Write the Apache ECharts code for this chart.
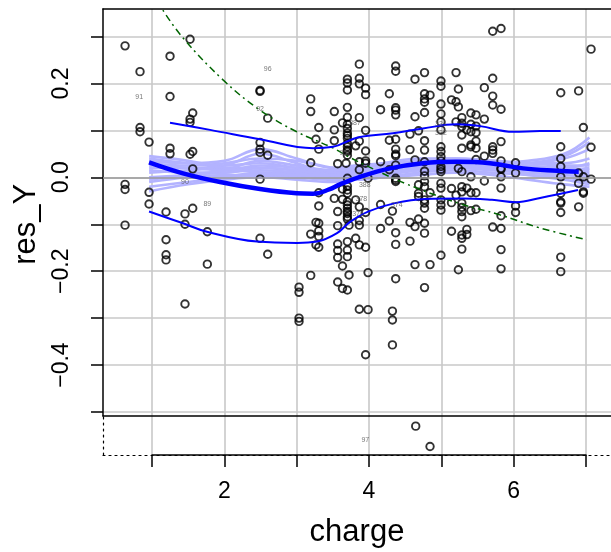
<!DOCTYPE html>
<html><head><meta charset="utf-8">
<script src="https://cdn.jsdelivr.net/npm/echarts@6/dist/echarts.min.js"></script>
<style>html,body{margin:0;padding:0;background:#fff}#c{width:611px;height:552px}</style>
</head><body><div id="c"></div>
<script>
// ---- data (charge, res_Y) ----
const points = [
[0.627,0.280],[0.627,-0.015],[0.627,-0.026],[0.627,-0.102],
[0.834,0.225],[0.834,0.106],[0.834,0.097],
[0.959,0.075],[0.959,-0.032],[0.959,-0.057],
[1.194,-0.074],[1.194,-0.133],[1.194,-0.165],[1.194,-0.176],
[1.249,0.258],[1.249,0.172],[1.249,0.062],[1.249,0.050],
[1.456,-0.078],[1.456,-0.100],[1.456,-0.270],
[1.526,0.294],[1.526,0.124],[1.526,0.117],[1.526,0.049],
[1.563,0.137],[1.563,0.055],[1.563,0.018],[1.563,-0.066],
[1.765,-0.116],[1.765,-0.185],
[2.494,0.185],[2.494,0.183],[2.494,0.074],[2.494,0.060],[2.494,0.053],[2.494,-0.004],[2.494,-0.130],
[2.6,0.126],[2.6,0.047],[2.6,-0.164],
[3.033,-0.234],[3.033,-0.245],[3.033,-0.300],[3.033,-0.307],
[3.195,0.167],[3.195,0.140],[3.195,0.031],[3.195,-0.121],[3.195,-0.209],
[3.306,0.106],[3.268,0.081],[3.306,0.060],[3.306,-0.033],[3.306,-0.061],[3.268,-0.096],[3.306,-0.098],[3.306,-0.114],[3.306,-0.126],[3.268,-0.144],[3.306,-0.149],
[3.521,0.140],[3.521,0.101],[3.521,0.078],[3.521,-0.045],
[3.568,0.029],[3.568,-0.073],[3.568,-0.103],[3.568,-0.142],[3.568,-0.156],[3.568,-0.171],[3.568,-0.223],
[3.634,0.116],[3.634,-0.025],[3.634,-0.047],[3.634,-0.189],[3.634,-0.237],
[3.702,0.209],[3.702,0.201],[3.702,0.186],[3.702,0.149],[3.702,0.128],[3.702,0.113],[3.702,0.104],[3.702,0.094],[3.702,0.089],[3.702,0.083],[3.702,0.072],[3.702,0.065],[3.702,0.058],[3.702,0.055],[3.702,0.047],[3.684,0.030],[3.702,-0.002],[3.702,-0.019],[3.702,-0.027],[3.702,-0.034],[3.702,-0.052],[3.702,-0.059],[3.702,-0.066],[3.702,-0.073],[3.702,-0.077],[3.702,-0.084],[3.702,-0.089],[3.725,-0.102],[3.702,-0.137],[3.702,-0.155],[3.702,-0.169],[3.725,-0.208],[3.702,-0.240],
[3.817,0.067],[3.817,-0.048],[3.817,-0.130],
[3.867,0.241],[3.867,0.211],[3.867,0.199],[3.867,0.127],[3.867,0.077],[3.867,0.033],[3.867,0.016],[3.867,-0.063],[3.867,-0.092],[3.867,-0.102],[3.867,-0.144],[3.867,-0.281],
[3.954,0.190],[3.954,0.176],[3.954,0.100],[3.954,0.056],[3.954,0.035],[3.954,0.030],[3.954,-0.075],[3.954,-0.149],[3.954,-0.378],[3.988,-0.002],[3.988,-0.203],[3.988,-0.282],
[4.161,0.144],[4.161,0.033],[4.161,-0.058],[4.161,-0.109],
[4.282,0.178],[4.282,0.079],[4.282,0.016],[4.282,-0.093],
[4.325,-0.072],[4.325,-0.285],[4.325,-0.304],[4.325,-0.357],
[4.37,0.237],[4.37,0.226],[4.37,0.148],[4.37,0.143],[4.37,0.133],[4.37,0.081],[4.37,0.060],[4.37,0.049],[4.37,0.046],[4.37,0.026],[4.37,-0.002],[4.37,-0.006],[4.37,-0.009],[4.37,-0.118],[4.37,-0.143],[4.37,-0.216],
[4.568,0.092],[4.568,0.059],[4.568,-0.096],[4.568,-0.136],
[4.637,0.209],[4.637,0.129],[4.637,0.037],[4.637,-0.105],[4.637,-0.186],
[4.686,0.099],[4.686,-0.016],[4.686,-0.034],[4.686,-0.041],[4.686,-0.089],
[4.769,0.223],[4.769,0.178],[4.769,0.167],[4.769,0.160],[4.769,0.138],[4.769,0.078],[4.769,0.058],[4.769,0.033],[4.769,0.013],[4.769,0.003],[4.769,-0.009],[4.769,-0.020],[4.769,-0.048],[4.769,-0.055],[4.769,-0.066],[4.769,-0.098],[4.769,-0.119],[4.769,-0.235],
[4.845,0.175],[4.845,-0.033],[4.845,-0.186],
[4.996,0.205],[4.996,0.194],[4.996,0.156],[4.996,0.135],[4.996,0.118],[4.996,0.101],[4.996,0.065],[4.996,0.055],[4.996,0.044],[4.996,0.035],[4.996,0.023],[4.996,0.017],[4.996,0.012],[4.996,-0.013],[4.996,-0.023],[4.996,-0.048],[4.996,-0.059],[4.996,-0.070],[4.996,-0.166],
[5.142,0.165],[5.142,-0.024],[5.142,-0.054],[5.142,-0.115],
[5.205,0.223],[5.205,0.161],[5.205,0.118],[5.205,-0.038],
[5.237,0.188],[5.237,0.150],[5.237,0.019],[5.237,-0.197],
[5.285,0.127],[5.285,0.115],[5.285,0.108],[5.285,0.090],[5.285,0.062],[5.285,0.012],[5.285,-0.020],[5.285,-0.031],[5.285,-0.055],[5.285,-0.064],[5.285,-0.073],[5.285,-0.084],[5.285,-0.123],[5.285,-0.130],[5.285,-0.153],
[5.354,0.101],[5.354,-0.023],[5.354,-0.111],[5.354,-0.122],
[5.41,0.137],[5.41,0.113],[5.41,0.097],[5.41,0.069],[5.41,0.065],[5.41,0.001],[5.41,-0.033],[5.41,-0.071],
[5.481,0.133],[5.481,0.109],[5.481,0.095],[5.481,0.077],[5.481,0.062],[5.481,0.038],[5.481,-0.033],[5.481,-0.068],
[5.596,0.191],[5.596,0.124],[5.596,0.045],[5.596,-0.008],
[5.712,0.311],[5.712,0.211],[5.712,0.173],[5.712,0.154],[5.712,0.065],[5.712,0.058],[5.712,0.051],[5.712,-0.106],
[5.827,0.317],[5.827,0.145],[5.827,0.076],[5.827,0.035],[5.827,0.019],[5.827,0.017],[5.827,0.001],[5.827,-0.023],[5.827,-0.082],[5.827,-0.109],[5.827,-0.154],[5.827,-0.195],
[6.028,0.031],[6.028,0.009],[6.028,-0.061],[6.028,-0.075],
[6.653,0.180],[6.653,0.065],[6.653,0.040],[6.653,0.023],[6.653,0.001],[6.653,-0.021],[6.653,-0.034],[6.653,-0.052],[6.653,-0.055],[6.653,-0.075],[6.653,-0.170],[6.653,-0.201],
[6.9,0.184],[6.9,0.009],[6.9,-0.013],[6.9,-0.063],
[6.966,0.106],[6.966,0.001],[6.966,-0.031],[6.966,-0.034],
[7.072,0.273],[7.072,0.064],[7.072,-0.004]
];
// points beyond the lower limit, drawn in the outlier strip
const outlierPoints = [[4.647,-0.58],[4.845,-0.70]];
// case labels [charge, res_Y, id]
const caseLabels = [
[0.823,0.170,'91'],[2.6,0.230,'96'],[2.494,0.145,'92'],[1.456,-0.011,'90'],[1.765,-0.057,'89'],
[3.646,0.051,'95'],[3.808,0.115,'387'],[3.942,-0.016,'388'],[3.896,-0.047,'378'],[4.385,-0.059,'374'],
[3.849,-0.079,'376'],[4.996,0.113,'331'],[4.996,0.094,'332']
];
const outlierLabels = [[3.95,-0.66,'97']];
// smoother lines
const smoothX = [0.959,1.429,1.941,2.494,3.0,3.227,3.45,3.6,3.877,4.292,4.747,5.214,5.675,6.131,6.598,6.902];
const smoothY = [0.032,0.0085,-0.010,-0.025,-0.034,-0.035,-0.026,-0.015,0.001,0.019,0.030,0.033,0.030,0.019,0.014,0.012];
const upperX = [1.249,1.802,2.494,3.227,3.503,3.739,3.877,4.332,4.747,5.214,5.537,5.993,6.367,6.653];
const upperY = [0.116,0.101,0.081,0.062,0.065,0.079,0.086,0.094,0.104,0.113,0.109,0.097,0.0985,0.0985];
const lowerX = [0.959,1.429,1.761,2.452,3.006,3.282,3.559,3.739,3.988,4.361,4.776,5.288,5.703,6.035,6.367,6.892];
const lowerY = [-0.073,-0.098,-0.116,-0.137,-0.140,-0.137,-0.119,-0.095,-0.073,-0.055,-0.046,-0.045,-0.048,-0.053,-0.044,-0.027];
// bootstrap smooths
const bootX = [0.96,1.5,2.0,2.5,3.0,3.5,3.8,4.2,4.7,5.2,5.7,6.2,6.7,7.05];
const bootY = [
[0.04,0.03,0.025,0.03,0.02,0.015,0.02,0.025,0.03,0.03,0.03,0.03,0.04,0.06],
[0.02,0.02,0.025,0.05,0.03,0.01,0.015,0.02,0.025,0.03,0.025,0.02,0.02,0.03],
[-0.02,-0.01,0.0,0.01,0.01,0.005,0.01,0.02,0.03,0.035,0.03,0.02,0.015,0.01],
[0.03,0.025,0.03,0.04,0.035,0.02,0.015,0.01,0.015,0.02,0.02,0.015,0.01,0.005],
[-0.03,-0.015,-0.005,0.0,0.0,0.0,0.005,0.01,0.02,0.025,0.02,0.005,-0.005,-0.015],
[0.01,0.015,0.02,0.02,0.015,0.01,0.01,0.015,0.02,0.02,0.025,0.03,0.045,0.075],
[0.0,0.005,0.01,0.015,0.01,0.0,0.0,0.005,0.015,0.02,0.015,0.01,0.005,0.0],
[0.035,0.03,0.035,0.06,0.04,0.02,0.025,0.03,0.035,0.04,0.035,0.025,0.02,0.015],
[-0.01,0.0,0.005,0.005,0.0,-0.005,-0.005,0.0,0.01,0.015,0.01,0.005,0.0,-0.01],
[0.025,0.02,0.015,0.025,0.02,0.01,0.005,0.01,0.02,0.025,0.03,0.035,0.05,0.085],
[0.015,0.01,0.01,0.02,0.015,0.005,0.01,0.015,0.025,0.03,0.025,0.02,0.015,0.02],
[-0.005,0.005,0.015,0.035,0.025,0.015,0.02,0.03,0.04,0.04,0.035,0.03,0.025,0.025],
[0.045,0.035,0.02,0.01,0.005,0.005,0.01,0.02,0.03,0.035,0.035,0.03,0.03,0.04],
[0.0,0.0,0.0,0.0,-0.005,-0.01,-0.005,0.0,0.005,0.01,0.005,-0.005,-0.015,-0.02]
];
// reference curve (dash-dot)
const refX = [1.15,1.433,1.986,2.494,3.001,3.508,3.715,4.084,4.499,5.237,5.813,6.367,7.012];
const refY = [0.356,0.296,0.207,0.143,0.097,0.062,0.044,0.016,-0.013,-0.055,-0.080,-0.108,-0.133];
// axes
const xTicks = [1,2,3,4,5,6,7];
const yTickMin = -0.5, yTickMax = 0.3;

const X_MIN = 0.322, X_MAX = 7.348, Y_MIN = -0.5085, Y_MAX = 0.3585;
const FONT = 'Liberation Sans';
const zip = (xs, ys) => xs.map((x, i) => [x, ys[i]]);
const hidden = {show:false};
const circleStyle = {color:'rgba(0,0,0,0)', borderColor:'#000', borderWidth:1.9};

const series = [];
bootY.forEach(ys => series.push({type:'line', xAxisIndex:0, yAxisIndex:0, data:zip(bootX, ys), smooth:0.4,
  showSymbol:false, symbol:'none', lineStyle:{color:'#b3b3ff', width:2.6}, z:2, silent:true}));
series.push({type:'scatter', xAxisIndex:0, yAxisIndex:0, data:points, symbol:'circle', symbolSize:7.5,
  itemStyle:circleStyle, z:3,
  markLine:{silent:true, symbol:'none', label:{show:false}, lineStyle:{color:'#9a9a9a', width:1.6, type:'solid'}, data:[{yAxis:0}]}});
series.push({type:'line', xAxisIndex:0, yAxisIndex:0, data:zip(refX, refY), smooth:0.4, symbol:'none',
  lineStyle:{color:'#006400', width:1.5, type:[2,4,7,4]}, z:4});
series.push({type:'line', xAxisIndex:0, yAxisIndex:0, data:zip(upperX, upperY), smooth:0.4, symbol:'none',
  lineStyle:{color:'#0000ff', width:2}, z:5});
series.push({type:'line', xAxisIndex:0, yAxisIndex:0, data:zip(lowerX, lowerY), smooth:0.4, symbol:'none',
  lineStyle:{color:'#0000ff', width:2}, z:5});
series.push({type:'line', xAxisIndex:0, yAxisIndex:0, data:zip(smoothX, smoothY), smooth:0.4, symbol:'none',
  lineStyle:{color:'#0000ff', width:4.5}, z:6});
series.push({type:'scatter', xAxisIndex:0, yAxisIndex:0, data:caseLabels, symbolSize:0, z:7,
  label:{show:true, position:'inside', formatter:p=>p.data[2], fontSize:7, color:'#555', fontFamily:FONT}});
series.push({type:'scatter', xAxisIndex:4, yAxisIndex:3, data:outlierPoints, symbol:'circle', symbolSize:7.5,
  itemStyle:circleStyle, z:3});
series.push({type:'scatter', xAxisIndex:4, yAxisIndex:3, data:outlierLabels, symbolSize:0, z:7,
  label:{show:true, position:'inside', formatter:p=>p.data[2], fontSize:7, color:'#555', fontFamily:FONT}});

const blackLine = {show:true, onZero:false, lineStyle:{color:'#000', width:1.5}};
const fmtY = v => { const k = Math.round(v*10); if (k % 2 !== 0) return ''; const s = Math.abs(v).toFixed(1); return k < 0 ? '\u2212' + s : s; };

const option = {
  animation:false,
  backgroundColor:'#fff',
  grid:[
    {left:103, right:0, top:9, height:407},
    {left:103, right:0, top:36.5, height:375.5},
    {left:152, width:434, top:9, height:446},
    {left:103, right:0, top:416, height:39}
  ],
  xAxis:[
    {gridIndex:0, type:'value', min:X_MIN, max:X_MAX, position:'bottom', axisLine:blackLine, axisTick:hidden, axisLabel:hidden, splitLine:hidden},
    {gridIndex:0, type:'value', min:X_MIN, max:X_MAX, position:'top', axisLine:blackLine, axisTick:hidden, axisLabel:hidden, splitLine:hidden},
    {gridIndex:1, type:'value', min:X_MIN, max:X_MAX, show:false},
    {gridIndex:2, type:'value', min:xTicks[0], max:xTicks[xTicks.length-1], interval:1, position:'bottom',
      axisLine:blackLine, axisTick:{show:true, length:12, lineStyle:{color:'#000', width:1.5}},
      axisLabel:{formatter:v => (Math.round(v) % 2 === 0 ? String(Math.round(v)) : ''), fontSize:23, fontFamily:FONT, color:'#000', margin:25},
      splitLine:{show:true, lineStyle:{color:'#c8c8c8', width:1.6}}},
    {gridIndex:3, type:'value', min:X_MIN, max:X_MAX, position:'bottom',
      axisLine:{show:true, onZero:false, lineStyle:{color:'#000', width:1.2, type:[2,4]}}, axisTick:hidden, axisLabel:hidden, splitLine:hidden,
      name:'charge', nameLocation:'middle', nameGap:62, nameTextStyle:{fontSize:31, fontFamily:FONT, color:'#000'}}
  ],
  yAxis:[
    {gridIndex:0, type:'value', min:Y_MIN, max:Y_MAX, axisLine:blackLine, axisTick:hidden, axisLabel:hidden, splitLine:hidden},
    {gridIndex:1, type:'value', min:yTickMin, max:yTickMax, interval:0.1, axisLine:{show:false},
      axisTick:{show:true, length:12, lineStyle:{color:'#000', width:1.5}},
      axisLabel:{formatter:fmtY, rotate:90, fontSize:23, fontFamily:FONT, color:'#000', margin:30},
      splitLine:{show:true, lineStyle:{color:'#c8c8c8', width:1.6}},
      name:'res_Y', nameLocation:'middle', nameRotate:90, nameGap:55, nameTextStyle:{fontSize:31, fontFamily:FONT, color:'#000'}},
    {gridIndex:2, type:'value', min:0, max:1, show:false},
    {gridIndex:3, type:'value', min:-0.75, max:-0.52,
      axisLine:{show:true, onZero:false, lineStyle:{color:'#000', width:1.2, type:[2,4]}}, axisTick:hidden, axisLabel:hidden, splitLine:hidden}
  ],
  series
};
const chart = echarts.init(document.getElementById('c'), null, {renderer:'canvas'});
chart.setOption(option);
</script></body></html>
